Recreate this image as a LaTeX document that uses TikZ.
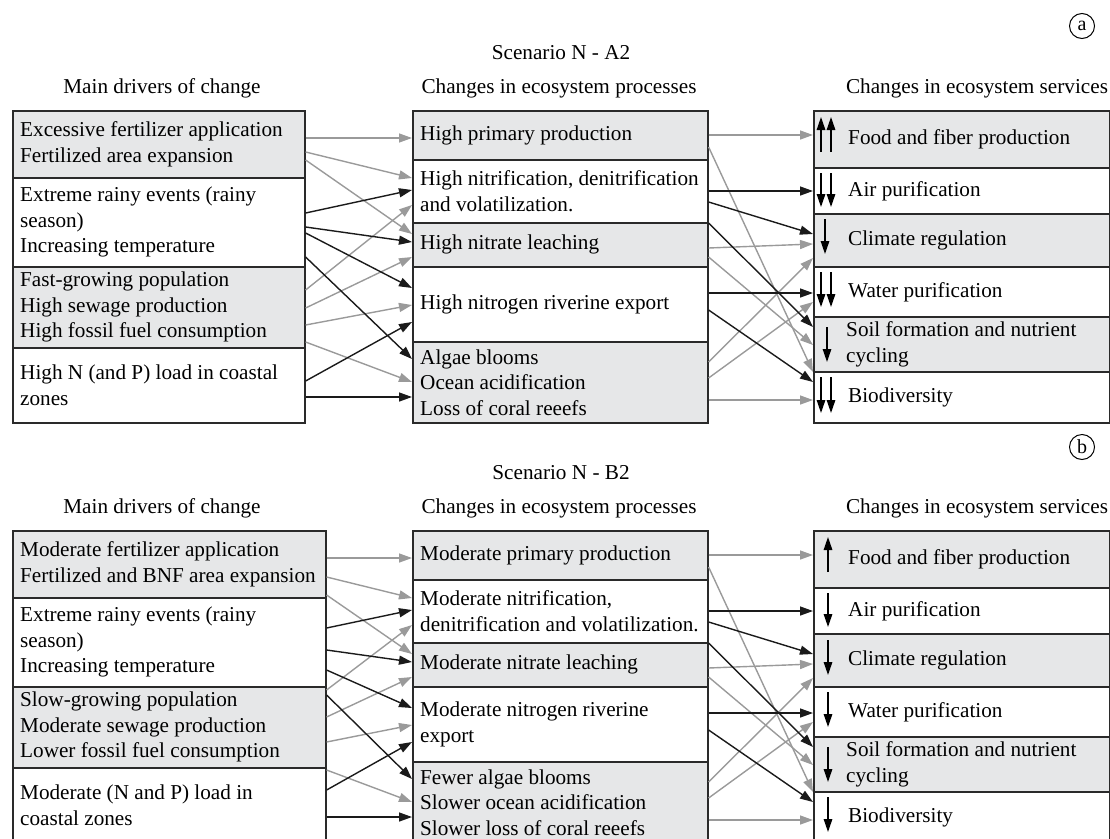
\documentclass[tikz,border=0pt]{standalone}
\usepackage{fontspec}
\setmainfont{Liberation Serif}
\usetikzlibrary{arrows.meta,calc}
\definecolor{boxfill}{HTML}{E6E7E8}
\definecolor{boxline}{HTML}{2A2A2A}
\definecolor{garr}{HTML}{9A9A9A}
\definecolor{karr}{HTML}{1A1A1A}
\begin{document}
\begin{tikzpicture}[x=1pt,y=-1pt,
  txt/.style={font=\fontsize{21.2pt}{25.5pt}\selectfont},
  lbl/.style={txt, anchor=west, align=left, inner sep=0pt},
  head/.style={txt, inner sep=0pt},
  bx/.style={draw=boxline, line width=1.6pt, rectangle, anchor=north west, inner sep=0pt},
  gbx/.style={bx, fill=boxfill},
  ga/.style={draw=garr, line width=1.4pt, -{Triangle[length=13pt,width=9pt]}},
  ka/.style={draw=karr, line width=1.4pt, -{Triangle[length=13pt,width=9pt]}},
  sym/.style={draw=black, line width=1.4pt, -{Triangle[length=13pt,width=8.5pt]}},
  tag/.style={draw=black, circle, line width=1pt, minimum size=25pt, inner sep=0pt, font=\fontsize{20pt}{22pt}\selectfont},
]
\useasboundingbox (0,0) rectangle (1110,838);
\clip (0,0) rectangle (1110,838);

% ================= Panel a =================
\node[tag] (aTag) at (1082,26) {a};
\node[head] (aScn) at (561,53) {Scenario N - A2};
\node[head] (aH1) at (162,88) {Main drivers of change};
\node[head] (aH2) at (559,88) {Changes in ecosystem processes};
\node[head] (aH3) at (977,88) {Changes in ecosystem services};

\node[gbx, minimum width=292pt, minimum height=67pt] (aL1) at (12,110) {};
\node[bx,  minimum width=292pt, minimum height=89pt] (aL2) at (12,177) {};
\node[gbx, minimum width=292pt, minimum height=81pt] (aL3) at (12,266) {};
\node[bx,  minimum width=292pt, minimum height=75pt] (aL4) at (12,347) {};
\node[lbl] (aL1t) at ([xshift=8pt]aL1.west) {Excessive fertilizer application\\Fertilized area expansion};
\node[lbl] (aL2t) at ([xshift=8pt]aL2.west) {Extreme rainy events (rainy\\season)\\Increasing temperature};
\node[lbl] (aL3t) at ([xshift=8pt]aL3.west) {Fast-growing population\\High sewage production\\High fossil fuel consumption};
\node[lbl] (aL4t) at ([xshift=8pt]aL4.west) {High N (and P) load in coastal\\zones};

\node[gbx, minimum width=295pt, minimum height=49pt] (aM1) at (412,110) {};
\node[bx,  minimum width=295pt, minimum height=63pt] (aM2) at (412,159) {};
\node[gbx, minimum width=295pt, minimum height=44pt] (aM3) at (412,222) {};
\node[bx,  minimum width=295pt, minimum height=75pt] (aM4) at (412,266) {};
\node[gbx, minimum width=295pt, minimum height=81pt] (aM5) at (412,341) {};
\node[lbl] (aM1t) at ([xshift=8pt]aM1.west) {High primary production};
\node[lbl] (aM2t) at ([xshift=8pt]aM2.west) {High nitrification, denitrification\\and volatilization.};
\node[lbl] (aM3t) at ([xshift=8pt]aM3.west) {High nitrate leaching};
\node[lbl] (aM4t) at ([xshift=8pt]aM4.west) {High nitrogen riverine export};
\node[lbl] (aM5t) at ([xshift=8pt]aM5.west) {Algae blooms\\Ocean acidification\\Loss of coral reeefs};

\node[gbx, minimum width=296pt, minimum height=57pt] (aR1) at (813,110) {};
\node[bx,  minimum width=296pt, minimum height=46pt] (aR2) at (813,167) {};
\node[gbx, minimum width=296pt, minimum height=53pt] (aR3) at (813,213) {};
\node[bx,  minimum width=296pt, minimum height=50pt] (aR4) at (813,266) {};
\node[gbx, minimum width=296pt, minimum height=55pt] (aR5) at (813,316) {};
\node[bx,  minimum width=296pt, minimum height=51pt] (aR6) at (813,371) {};
\node[lbl] (aR1t) at ([xshift=35pt]aR1.west) {Food and fiber production};
\node[lbl] (aR2t) at ([xshift=35pt]aR2.west) {Air purification};
\node[lbl] (aR3t) at ([xshift=35pt]aR3.west) {Climate regulation};
\node[lbl] (aR4t) at ([xshift=35pt]aR4.west) {Water purification};
\node[lbl] (aR5t) at ([xshift=33pt]aR5.west) {Soil formation and nutrient\\cycling};
\node[lbl] (aR6t) at ([xshift=35pt]aR6.west) {Biodiversity};

% trend symbols, panel a
\foreach \b/\x/\t/\h in {R1/8/42/7, R1/18/42/7}
  \draw[sym] ([xshift=\x pt,yshift=-\t pt]a\b.north west) -- ([xshift=\x pt,yshift=-\h pt]a\b.north west);
\foreach \b/\x/\t/\h in {R2/8/6/40, R2/18/6/40, R3/12/6/41, R4/8/6/41, R4/18/6/41, R5/14/11/46, R6/8/6/42, R6/18/6/42}
  \draw[sym] ([xshift=\x pt,yshift=-\t pt]a\b.north west) -- ([xshift=\x pt,yshift=-\h pt]a\b.north west);

% drivers -> processes, panel a
\foreach \f/\fo/\t/\to in {L1/28/M1/28, L1/42/M2/19, L1/50/M3/12, L3/24/M2/46, L3/42/M3/35, L3/59/M4/39, L3/76/M5/41}
  \draw[ga] ([yshift=-\fo pt]a\f.north east) -- ([yshift=-\to pt]a\t.north west);
\foreach \f/\fo/\t/\to in {L2/36/M2/31, L2/50/M3/20, L2/56/M4/22, L2/80/M5/18, L4/34/M4/56, L4/50/M5/56}
  \draw[ka] ([yshift=-\fo pt]a\f.north east) -- ([yshift=-\to pt]a\t.north west);

% ================= Panel b =================
\begin{scope}[shift={(0,420)}]
\node[tag] (bTag) at (1082,27) {b};
\node[head] (bScn) at (561,53) {Scenario N - B2};
\node[head] (bH1) at (162,88) {Main drivers of change};
\node[head] (bH2) at (559,88) {Changes in ecosystem processes};
\node[head] (bH3) at (977,88) {Changes in ecosystem services};

\node[gbx, minimum width=313pt, minimum height=67pt] (bL1) at (12,110) {};
\node[bx,  minimum width=313pt, minimum height=89pt] (bL2) at (12,177) {};
\node[gbx, minimum width=313pt, minimum height=81pt] (bL3) at (12,266) {};
\node[bx,  minimum width=313pt, minimum height=75pt] (bL4) at (12,347) {};
\node[lbl] (bL1t) at ([xshift=8pt]bL1.west) {Moderate fertilizer application\\Fertilized and BNF area expansion};
\node[lbl] (bL2t) at ([xshift=8pt]bL2.west) {Extreme rainy events (rainy\\season)\\Increasing temperature};
\node[lbl] (bL3t) at ([xshift=8pt]bL3.west) {Slow-growing population\\Moderate sewage production\\Lower fossil fuel consumption};
\node[lbl] (bL4t) at ([xshift=8pt]bL4.west) {Moderate (N and P) load in\\coastal zones};

\node[gbx, minimum width=295pt, minimum height=49pt] (bM1) at (412,110) {};
\node[bx,  minimum width=295pt, minimum height=63pt] (bM2) at (412,159) {};
\node[gbx, minimum width=295pt, minimum height=44pt] (bM3) at (412,222) {};
\node[bx,  minimum width=295pt, minimum height=75pt] (bM4) at (412,266) {};
\node[gbx, minimum width=295pt, minimum height=81pt] (bM5) at (412,341) {};
\node[lbl] (bM1t) at ([xshift=8pt]bM1.west) {Moderate primary production};
\node[lbl] (bM2t) at ([xshift=8pt]bM2.west) {Moderate nitrification,\\denitrification and volatilization.};
\node[lbl] (bM3t) at ([xshift=8pt]bM3.west) {Moderate nitrate leaching};
\node[lbl] (bM4t) at ([xshift=8pt]bM4.west) {Moderate nitrogen riverine\\export};
\node[lbl] (bM5t) at ([xshift=8pt]bM5.west) {Fewer algae blooms\\Slower ocean acidification\\Slower loss of coral reeefs};

\node[gbx, minimum width=296pt, minimum height=57pt] (bR1) at (813,110) {};
\node[bx,  minimum width=296pt, minimum height=46pt] (bR2) at (813,167) {};
\node[gbx, minimum width=296pt, minimum height=53pt] (bR3) at (813,213) {};
\node[bx,  minimum width=296pt, minimum height=50pt] (bR4) at (813,266) {};
\node[gbx, minimum width=296pt, minimum height=55pt] (bR5) at (813,316) {};
\node[bx,  minimum width=296pt, minimum height=51pt] (bR6) at (813,371) {};
\node[lbl] (bR1t) at ([xshift=35pt]bR1.west) {Food and fiber production};
\node[lbl] (bR2t) at ([xshift=35pt]bR2.west) {Air purification};
\node[lbl] (bR3t) at ([xshift=35pt]bR3.west) {Climate regulation};
\node[lbl] (bR4t) at ([xshift=35pt]bR4.west) {Water purification};
\node[lbl] (bR5t) at ([xshift=33pt]bR5.west) {Soil formation and nutrient\\cycling};
\node[lbl] (bR6t) at ([xshift=35pt]bR6.west) {Biodiversity};

% trend symbols, panel b
\draw[sym] ([xshift=15pt,yshift=-42pt]bR1.north west) -- ([xshift=15pt,yshift=-7pt]bR1.north west);
\foreach \b/\t/\h in {R2/6/40, R3/7/42, R4/6/41, R5/11/46, R6/6/41}
  \draw[sym] ([xshift=15pt,yshift=-\t pt]b\b.north west) -- ([xshift=15pt,yshift=-\h pt]b\b.north west);

% drivers -> processes, panel b
\foreach \f/\fo/\t/\to in {L1/28/M1/28, L1/47/M2/19, L1/65/M3/12, L3/4/M2/46, L3/31/M3/35, L3/56/M4/39, L4/3/M5/41}
  \draw[ga] ([yshift=-\fo pt]b\f.north east) -- ([yshift=-\to pt]b\t.north west);
\foreach \f/\fo/\t/\to in {L2/31/M2/31, L2/53/M3/20, L2/73/M4/22, L3/9/M5/18, L4/23/M4/56, L4/50/M5/56}
  \draw[ka] ([yshift=-\fo pt]b\f.north east) -- ([yshift=-\to pt]b\t.north west);
\end{scope}

% processes -> services, both panels
\foreach \p in {a,b}{
  \foreach \f/\fo/\t/\to in {M1/25/R1/25, M1/37/R6/1, M3/26/R3/31, M3/35/R5/29, M5/21/R3/45, M5/37/R4/36, M5/59/R6/29}
    \draw[ga] ([yshift=-\fo pt]\p\f.north east) -- ([yshift=-\to pt]\p\t.north west);
  \foreach \f/\fo/\t/\to in {M2/32/R2/24, M2/43/R3/21, M3/1/R5/11, M4/27/R4/27, M4/44/R6/11}
    \draw[ka] ([yshift=-\fo pt]\p\f.north east) -- ([yshift=-\to pt]\p\t.north west);
}
\end{tikzpicture}
\end{document}
